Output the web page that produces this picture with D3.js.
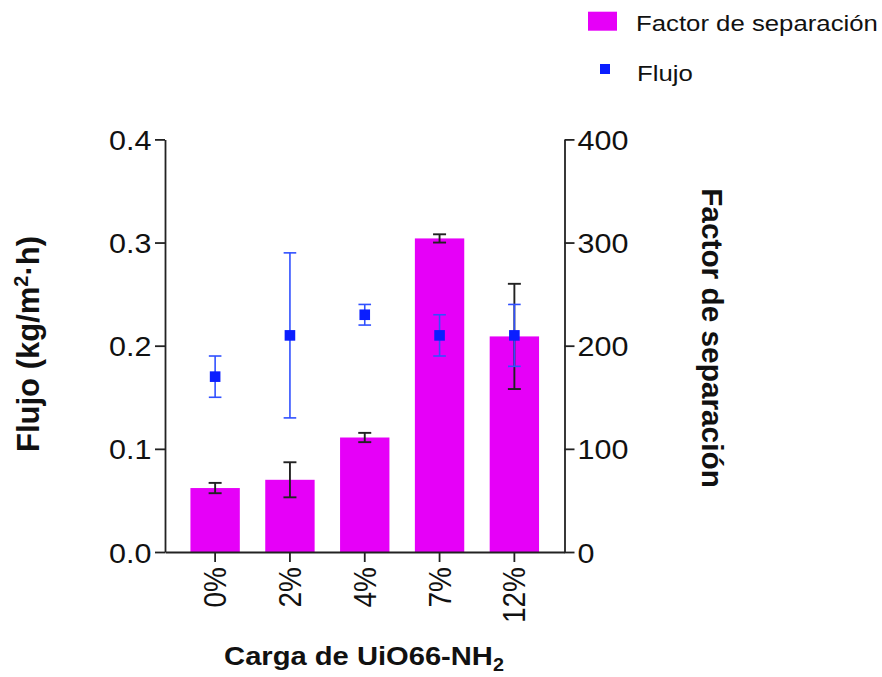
<!DOCTYPE html>
<html>
<head>
<meta charset="UTF-8">
<title>Flujo y factor de separación</title>
<script src="https://d3js.org/d3.v7.min.js"></script>
<style type="text/css">
	body { margin: 0; background: #fff; }
	svg { display: block; font-family: "Liberation Sans", Arial, sans-serif; }
</style>
</head>
<body>
<div id="chart"></div>
<script type="text/javascript">

// datos
var categorias = ["0%", "2%", "4%", "7%", "12%"];
var factorSep = [62, 70, 111, 304, 209];
var factorSepErr = [5, 17, 4.5, 4, 51];
var flujo = [0.17, 0.21, 0.23, 0.21, 0.21];
var flujoErr = [0.02, 0.08, 0.01, 0.02, 0.03];
var ticksFlujo = [0, 0.1, 0.2, 0.3, 0.4];
var ticksFactor = [0, 100, 200, 300, 400];

const ancho = 882, alto = 677;
const izq = 165, der = 564.5, arriba = 139.4, abajo = 552;
const magenta = "#e600f8", azul = "#0a1eff", azulErr = "#3050ff", ejes = "#222";

const svg = d3.select("#chart").append("svg")
	.attr("width", ancho)
	.attr("height", alto);

const x = d3.scaleBand()
	.domain(categorias)
	.range([izq, der])
	.paddingInner(0.34)
	.paddingOuter(0.34);

const yFlujo = d3.scaleLinear().domain([0, 0.4]).range([abajo, arriba]);
const yFactor = d3.scaleLinear().domain([0, 400]).range([abajo, arriba]);

// barras
svg.append("g").selectAll("rect")
	.data(factorSep)
	.enter().append("rect")
	.attr("x", function(d, i) { return x(categorias[i]); })
	.attr("width", x.bandwidth())
	.attr("y", function(d) { return yFactor(d); })
	.attr("height", function(d) { return yFactor(0) - yFactor(d); })
	.attr("fill", magenta);

function barraError(g, cx, y1, y2, color, cap, w) {
	g.append("line").attr("x1", cx).attr("x2", cx).attr("y1", y1).attr("y2", y2)
		.attr("stroke", color).attr("stroke-width", w);
	[y1, y2].forEach(function(yy) {
		g.append("line").attr("x1", cx - cap).attr("x2", cx + cap).attr("y1", yy).attr("y2", yy)
			.attr("stroke", color).attr("stroke-width", w);
	});
}

const errB = svg.append("g");
factorSep.forEach(function(d, i) {
	var cx = x(categorias[i]) + x.bandwidth() / 2;
	barraError(errB, cx, yFactor(d + factorSepErr[i]), yFactor(d - factorSepErr[i]), ejes, 6.5, 1.9);
});

// flujo
const errF = svg.append("g");
flujo.forEach(function(d, i) {
	var cx = x(categorias[i]) + x.bandwidth() / 2;
	barraError(errF, cx, yFlujo(d + flujoErr[i]), yFlujo(d - flujoErr[i]), azulErr, 6.3, 1.6);
});
svg.append("g").selectAll("rect")
	.data(flujo)
	.enter().append("rect")
	.attr("x", function(d, i) { return x(categorias[i]) + x.bandwidth() / 2 - 5.3; })
	.attr("y", function(d) { return yFlujo(d) - 5.3; })
	.attr("width", 10.6)
	.attr("height", 10.6)
	.attr("fill", azul);

// ejes
function estiloEje(g) {
	g.selectAll("path, line").attr("stroke", ejes).attr("stroke-width", 1.8);
	g.selectAll("text").attr("fill", "#111").style("font-size", "28px")
		.attr("font-family", "'Liberation Sans', Arial, sans-serif");
}

const ejeIzq = svg.append("g")
	.attr("transform", "translate(" + izq + ",0)")
	.call(d3.axisLeft(yFlujo).tickValues(ticksFlujo).tickFormat(d3.format(".1f")).tickSize(10).tickSizeOuter(0))
	.call(estiloEje);
ejeIzq.selectAll("text")
	.attr("x", -13.5 / 1.09)
	.attr("dy", "0.36em")
	.attr("transform", "scale(1.09,1)");

const ejeDer = svg.append("g")
	.attr("transform", "translate(" + der + ",0)")
	.call(d3.axisRight(yFactor).tickValues(ticksFactor).tickSize(10).tickSizeOuter(0))
	.call(estiloEje);
ejeDer.selectAll("text")
	.attr("x", 13 / 1.09)
	.attr("dy", "0.36em")
	.attr("transform", "scale(1.09,1)");

const ejeInf = svg.append("g")
	.attr("transform", "translate(0," + abajo + ")")
	.call(d3.axisBottom(x).tickSize(10).tickSizeOuter(0))
	.call(estiloEje);
ejeInf.selectAll("text")
	.attr("transform", "scale(1.1,1) rotate(-90)")
	.attr("text-anchor", "end")
	.attr("x", -15)
	.attr("y", 0)
	.attr("dy", "0.36em");

// titulos
const tIzq = svg.append("text")
	.attr("transform", "translate(39,344) rotate(-90)")
	.attr("text-anchor", "middle")
	.attr("fill", "#111")
	.style("font-size", "31px").style("font-weight", "bold");
tIzq.append("tspan").text("Flujo (kg/m");
tIzq.append("tspan").text("2").style("font-size", "20px").attr("dy", "-0.55em");
tIzq.append("tspan").text("·h)").attr("dy", "0.37em");

svg.append("text")
	.attr("transform", "translate(702,338) rotate(90)")
	.attr("text-anchor", "middle")
	.attr("fill", "#111")
	.style("font-size", "29.8px").style("font-weight", "bold")
	.text("Factor de separación");

const tInf = svg.append("text")
	.attr("transform", "translate(364,665) scale(1.1,1)")
	.attr("text-anchor", "middle")
	.attr("fill", "#111")
	.style("font-size", "26.5px").style("font-weight", "bold");
tInf.append("tspan").text("Carga de UiO66-NH");
tInf.append("tspan").text("2").style("font-size", "18px").attr("dy", "0.35em");

// leyenda
const leyenda = svg.append("g");
leyenda.append("rect").attr("x", 588).attr("y", 11.7).attr("width", 29).attr("height", 19).attr("fill", magenta);
leyenda.append("text")
	.attr("transform", "translate(636,30.5) scale(1.12,1)")
	.attr("fill", "#111")
	.style("font-size", "23px")
	.text("Factor de separación");
leyenda.append("rect").attr("x", 600).attr("y", 64).attr("width", 10).attr("height", 10).attr("fill", azul);
leyenda.append("text")
	.attr("transform", "translate(637,80.5) scale(1.12,1)")
	.attr("fill", "#111")
	.style("font-size", "23px")
	.text("Flujo");

</script>
</body>
</html>
